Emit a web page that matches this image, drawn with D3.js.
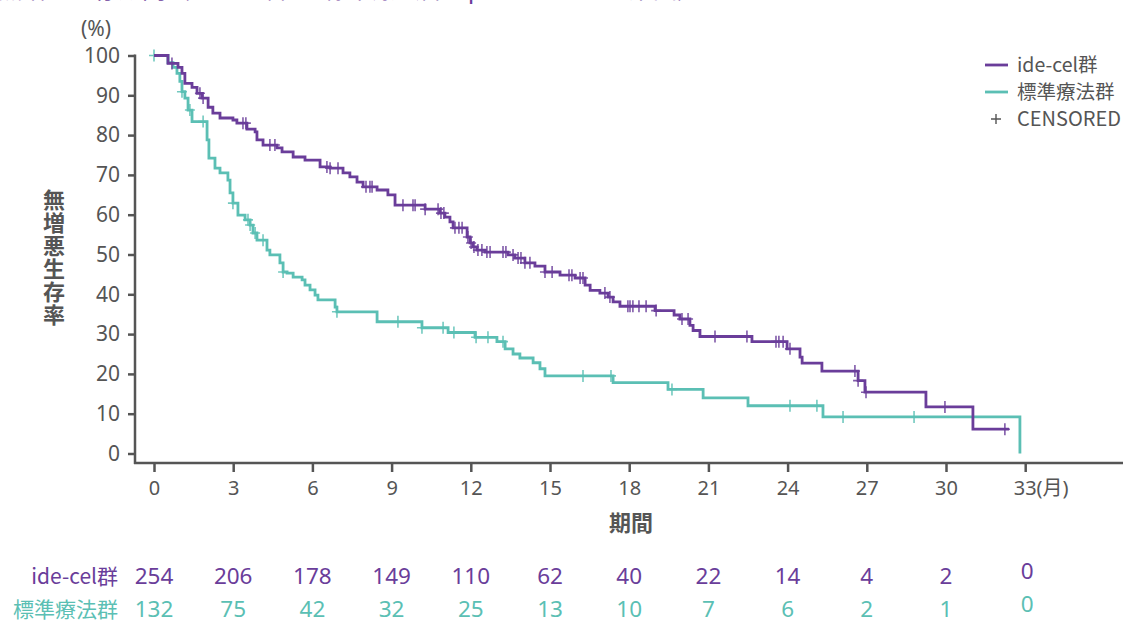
<!DOCTYPE html>
<html lang="ja">
<head>
<meta charset="utf-8">
<script src="https://cdn.jsdelivr.net/npm/d3@7"></script>
<style>
  html, body { margin: 0; padding: 0; background: #fff; overflow: hidden; }
  svg { display: block; font-family: "Noto Sans CJK JP", "Noto Sans", sans-serif; }
</style>
</head>
<body>
<svg id="chart" width="1123" height="624"></svg>
<script>
// ---- data -------------------------------------------------------------
// Kaplan–Meier steps: event time (months) and survival (%) after the drop
const ideTimes = [0.53,0.91,1.06,1.17,1.44,1.63,1.82,2.05,2.23,2.5,2.99,3.14,3.52,3.83,3.9,4.13,4.66,4.85,5.27,5.72,6.29,6.67,7.16,7.42,7.69,7.92,8.45,8.86,9.13,10.27,10.83,11.02,11.21,11.33,11.86,11.97,12.08,12.23,12.54,13.41,13.67,14.05,14.43,14.81,15.38,15.95,16.33,16.52,16.89,17.2,17.39,17.65,18.98,19.7,19.92,20.3,20.42,20.68,22.65,23.98,24.47,24.55,25.3,26.67,26.93,29.24,31.02];
const ideSurv  = [98,97,95.5,93,92,90.5,89.3,87,85.5,84.3,83.8,83,81.5,80.8,78.8,77.5,76.8,75.8,74.5,73.7,72,71.7,70.5,69.5,68.2,67,66.2,65,62.4,61.4,60.4,59.4,58.2,56.7,54.4,52.9,51.9,51.1,50.6,49.9,49.1,47.9,47.1,45.6,44.8,44.1,42.3,41,40.3,39.3,38.1,37,35.9,34.8,33.8,32.2,30.9,29.4,28.1,26.3,24.2,22.7,20.7,18.3,15.4,11.7,6.1];
const ideEnd = 32.39;
const ideCensor = [0.68,1.74,1.86,3.37,3.48,4.39,4.58,6.55,6.67,6.97,8.03,8.18,8.26,9.43,9.81,9.89,10.27,10.76,10.87,10.98,11.4,11.55,11.67,11.89,12.01,12.12,12.27,12.42,12.61,12.73,13.22,13.33,13.6,13.79,13.9,14.05,14.24,14.81,15.08,15.72,15.83,16.14,16.25,17.08,17.27,17.95,18.03,18.14,18.37,18.64,19.02,20.0,20.23,21.25,22.46,23.56,23.67,23.83,24.09,26.55,26.67,26.97,29.96,32.23];

const socTimes = [0.53,0.72,0.87,0.98,1.06,1.17,1.29,1.44,2.01,2.08,2.31,2.5,2.8,2.88,2.99,3.18,3.45,3.64,3.75,3.9,4.28,4.39,4.77,4.89,5.04,5.27,5.61,5.72,5.91,6.1,6.21,6.86,6.93,8.45,10.15,11.14,12.16,12.99,13.3,13.6,13.86,14.36,14.62,14.81,17.39,19.47,20.8,22.5,25.34,32.8];
const socSurv  = [98.2,97,95.5,93.5,90.9,89.3,86.3,83.4,78.8,74.2,71.7,70.5,68.7,65.5,62.9,59.9,58.7,57.4,55.4,53.6,51.1,49.9,47.9,45.6,45.3,44.3,43.6,42.3,41.1,39.8,38.6,36.8,35.6,33.1,31.6,30.4,29.2,28.1,26.3,25,24,22.8,21.3,19.5,17.8,16.1,14,12,9.2,0];
const socEnd = 32.8;
const socCensor = [0,1.06,1.36,1.86,2.99,3.56,3.64,3.83,4.13,4.89,6.93,9.24,10.15,10.95,11.36,12.2,12.65,13.22,16.25,17.31,19.62,24.09,25.11,26.1,28.79];

// axis ticks
const xTicks = [0,3,6,9,12,15,18,21,24,27,30,33];
const yTicks = [0,10,20,30,40,50,60,70,80,90,100];

// number at risk
const riskTimes = [0,3,6,9,12,15,18,21,24,27,30,33];
const atRiskIde = [254,206,178,149,110,62,40,22,14,4,2,0];
const atRiskSoc = [132,75,42,32,25,13,10,7,6,2,1,0];

// groups
const groupNames = ["ide-cel群", "標準療法群"];
const colors = ["#6a3d9a", "#5bbfb4"];
const axisColor = "#555555";

// ---- scales -----------------------------------------------------------
const svg = d3.select("#chart");
const x = d3.scaleLinear().domain([0, 33]).range([154, 1025.2]);
const y = d3.scaleLinear().domain([0, 100]).range([453.5, 55.5]);

// ---- title line running off the top edge -----------------------------
svg.append("text")
  .attr("x", -2).attr("y", -2)
  .attr("fill", colors[0])
  .attr("font-size", 24)
  .text("無増悪生存期間（ide-cel群 vs 標準療法群、p<0.0001：ITT集団）");

// ---- axes -------------------------------------------------------------
const yAxis = d3.axisLeft(y).tickValues(yTicks).tickSize(7).tickPadding(8);
const gy = svg.append("g").attr("transform", "translate(135,0)").call(yAxis);
gy.select(".domain").remove();
gy.append("line").attr("x1", 0).attr("x2", 0).attr("y1", 54.5).attr("y2", 464)
  .attr("stroke", axisColor).attr("stroke-width", 2.5);
gy.selectAll(".tick line").attr("stroke", axisColor).attr("stroke-width", 2.5);
gy.selectAll(".tick text").attr("fill", axisColor).attr("font-size", 21)
  .attr("font-family", "'Noto Sans', sans-serif");

const xAxis = d3.axisBottom(x).tickValues(xTicks).tickSize(9).tickPadding(9)
  .tickFormat(d => d === 33 ? "33(月)" : d);
const gx = svg.append("g").attr("transform", "translate(0,463)").call(xAxis);
gx.select(".domain").remove();
gx.append("line").attr("x1", 134).attr("x2", 1123).attr("y1", 0).attr("y2", 0)
  .attr("stroke", axisColor).attr("stroke-width", 2.5);
gx.selectAll(".tick line").attr("stroke", axisColor).attr("stroke-width", 2.5);
gx.selectAll(".tick text").attr("fill", axisColor).attr("font-size", 20)
  .attr("font-family", "'Noto Sans', 'Noto Sans CJK JP', sans-serif");
gx.selectAll(".tick text").filter(d => d === 33)
  .attr("text-anchor", "start").attr("x", -12);

// axis titles
svg.append("text").attr("x", 96).attr("y", 36).attr("text-anchor", "middle")
  .attr("fill", axisColor).attr("font-size", 21)
  .attr("font-family", "'Noto Sans', sans-serif").text("(%)");
svg.append("text").attr("x", 631).attr("y", 531).attr("text-anchor", "middle")
  .attr("fill", axisColor).attr("font-size", 22).attr("font-weight", "bold").text("期間");
svg.append("text")
  .attr("transform", "translate(54,189)")
  .style("writing-mode", "vertical-rl")
  .style("text-orientation", "upright")
  .attr("letter-spacing", 1)
  .attr("fill", axisColor).attr("font-size", 22).attr("font-weight", "bold")
  .text("無増悪生存率");

// ---- curves -----------------------------------------------------------
function stepPoints(times, surv, end) {
  const pts = [[0, 100]];
  times.forEach((t, i) => pts.push([t, surv[i]]));
  const last = pts[pts.length - 1];
  if (last[0] < end) pts.push([end, last[1]]);
  return pts;
}
function levelAt(times, surv, t) {
  let v = 100;
  times.forEach((tt, i) => { if (tt <= t) v = surv[i]; });
  return v;
}
const line = d3.line().x(d => x(d[0])).y(d => y(d[1])).curve(d3.curveStepAfter);

const groups = [
  { times: socTimes, surv: socSurv, end: socEnd, censor: socCensor, color: colors[1] },
  { times: ideTimes, surv: ideSurv, end: ideEnd, censor: ideCensor, color: colors[0] }
];
groups.forEach(g => {
  svg.append("path")
    .attr("d", line(stepPoints(g.times, g.surv, g.end)))
    .attr("fill", "none").attr("stroke", g.color).attr("stroke-width", 2.8);
  svg.append("g").selectAll("path").data(g.censor).join("path")
    .attr("transform", t => `translate(${x(t)},${y(levelAt(g.times, g.surv, t))})`)
    .attr("d", "M-5,0H5M0,-6V6")
    .attr("stroke", g.color).attr("stroke-width", 1.6).attr("stroke-opacity", 0.85);
});

// ---- legend -----------------------------------------------------------
const legend = svg.append("g").attr("transform", "translate(985,0)");
groupNames.forEach((name, i) => {
  const ly = 65 + i * 27;
  legend.append("line").attr("x1", 0).attr("x2", 23).attr("y1", ly).attr("y2", ly)
    .attr("stroke", colors[i]).attr("stroke-width", 2.8);
  legend.append("text").attr("x", 32).attr("y", ly + 7).attr("fill", axisColor)
    .attr("font-size", 19.5).text(name);
});
legend.append("path").attr("transform", "translate(11,119)")
  .attr("d", "M-5,0H5M0,-5V5").attr("stroke", axisColor).attr("stroke-width", 1.4);
legend.append("text").attr("x", 32).attr("y", 126).attr("fill", axisColor)
  .attr("font-size", 20).text("CENSORED");

// ---- number at risk ---------------------------------------------------
const riskRows = [atRiskIde, atRiskSoc];
const riskBaselines = [584, 617];
riskRows.forEach((row, r) => {
  const ry = riskBaselines[r];
  svg.append("text").attr("x", 118).attr("y", ry).attr("text-anchor", "end")
    .attr("fill", colors[r]).attr("font-size", 21).text(groupNames[r]);
  svg.append("g").selectAll("text").data(row).join("text")
    .attr("x", (d, i) => x(riskTimes[i]) + (riskTimes[i] === 33 ? 2 : 0))
    .attr("y", (d, i) => riskTimes[i] === 33 ? ry - 5 : ry)
    .attr("text-anchor", "middle").attr("fill", colors[r])
    .attr("font-size", 22.5).attr("font-family", "'Noto Sans', sans-serif")
    .text(d => d);
});
</script>
</body>
</html>
